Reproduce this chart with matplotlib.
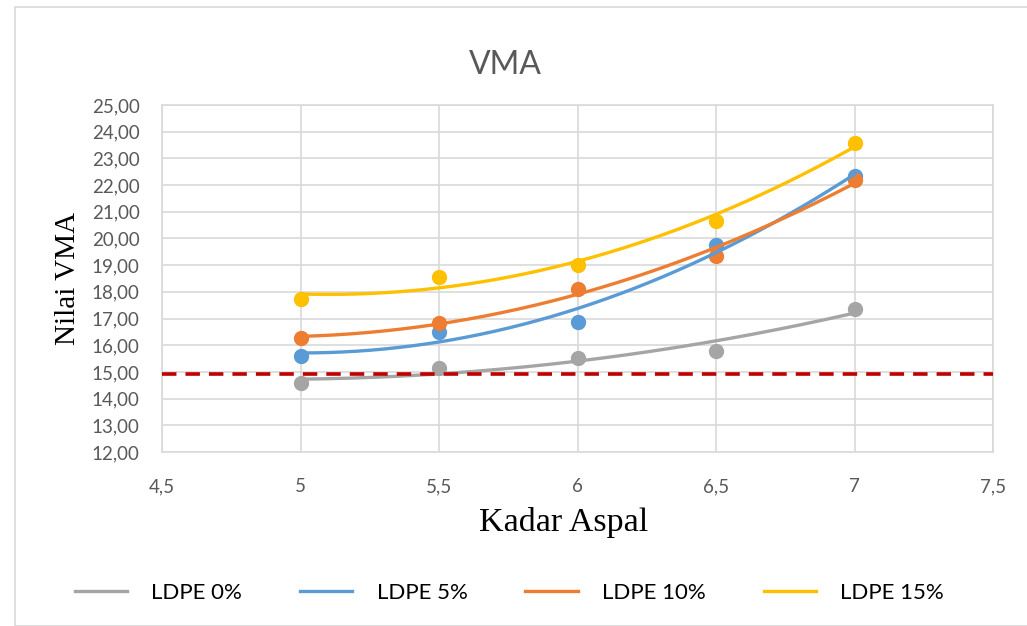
import numpy as np
import matplotlib
matplotlib.use('Agg')
import matplotlib.pyplot as plt
from matplotlib.patches import Rectangle

kadar = [5, 5.5, 6, 6.5, 7]
ldpe0 = [14.60, 15.15, 15.51, 15.80, 17.37]
ldpe5 = [15.60, 16.51, 16.88, 19.74, 22.35]
ldpe10 = [16.27, 16.85, 18.12, 19.33, 22.20]
ldpe15 = [17.74, 18.55, 19.02, 20.67, 23.57]
labels = ['LDPE 0%', 'LDPE 5%', 'LDPE 10%', 'LDPE 15%']
colors = ['#A5A5A5', '#5B9BD5', '#ED7D31', '#FFC000']
batas = 14.92

xticks = [4.5, 5, 5.5, 6, 6.5, 7, 7.5]
xticklabels = ['4,5', '5', '5,5', '6', '6,5', '7', '7,5']
yticks = list(range(12, 26))

plt.rcParams['font.family'] = ['Lato', 'DejaVu Sans']

fig = plt.figure(figsize=(10.27, 6.26), dpi=100)
fig.patches.append(Rectangle((15/1027, 0), 1.0, 1 - 7/626, transform=fig.transFigure,
                             fill=False, edgecolor='#d9d9d9', linewidth=1.2))
ax = fig.add_axes([162/1027, 1 - 452/626, (993-162)/1027, (452-105)/626])

xs = np.linspace(5, 7, 200)
for data, lab, c in zip([ldpe0, ldpe5, ldpe10, ldpe15], labels, colors):
    ax.plot(kadar, data, 'o', color=c, markersize=10, zorder=3)
    coef = np.polyfit(kadar, data, 2)
    ax.plot(xs, np.polyval(coef, xs), '-', color=c, linewidth=2.4, label=lab, zorder=4)

ax.axhline(batas, color='#C00000', linewidth=2.6, linestyle=(0, (4, 2.5)), zorder=5)

ax.set_xlim(4.5, 7.5)
ax.set_ylim(12, 25)
ax.set_xticks(xticks)
ax.set_xticklabels(xticklabels)
ax.set_yticks(yticks)
ax.set_yticklabels(['%d,00' % v for v in yticks])
ax.grid(True, color='#d9d9d9', linewidth=1.2)
ax.set_axisbelow(True)
for s in ax.spines.values():
    s.set_color('#d9d9d9')
    s.set_linewidth(1.2)
ax.tick_params(length=0, colors='#595959', labelsize=13.5)
ax.tick_params(axis='x', pad=19)
ax.tick_params(axis='y', pad=16)

fig.text(505/1027, 1 - 65/626, 'VMA', fontsize=23, color='#595959', ha='center', va='center')
ax.set_xlabel('Kadar Aspal', fontfamily='Liberation Serif', fontsize=24.5)
ax.xaxis.set_label_coords(564/1027, 1 - 507/626, transform=fig.transFigure)
ax.set_ylabel('Nilai VMA', fontfamily='Liberation Serif', fontsize=21, labelpad=8)

fig.legend(loc='center', bbox_to_anchor=(0.496, 1 - 593/626), ncol=4, frameon=False,
           fontsize=16, handlelength=2.35, handletextpad=1.1, columnspacing=2.6)

fig.savefig('out.png', dpi=100)
